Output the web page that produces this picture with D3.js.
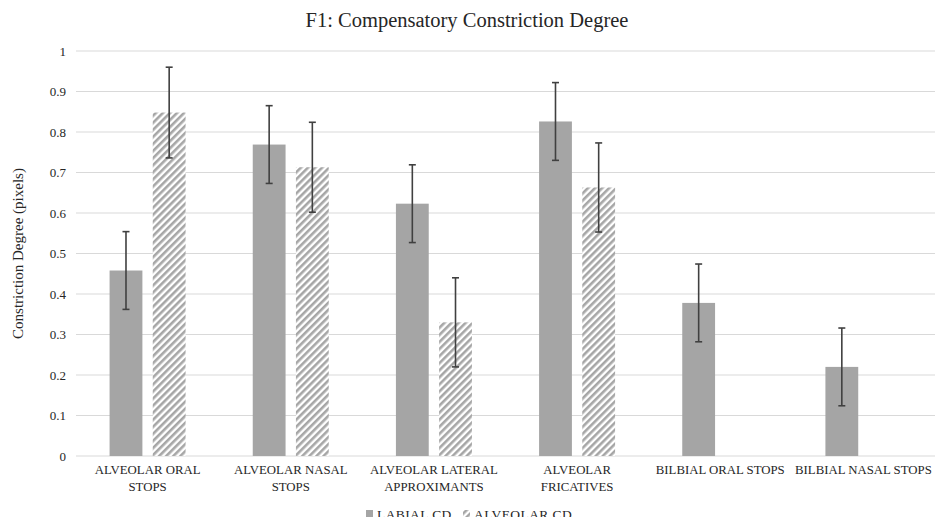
<!DOCTYPE html>
<meta charset="utf-8">
<style>
body { margin: 0; background: #fff; }
text { font-family: "Liberation Serif", "DejaVu Serif", serif; fill: #262626; }
.grid line { stroke: #d9d9d9; stroke-width: 1px; }
.err { stroke: #404040; stroke-width: 1.6px; }
</style>
<svg width="935" height="517"></svg>
<script src="https://d3js.org/d3.v7.min.js"></script>
<script>

var categories = [
  ["ALVEOLAR ORAL", "STOPS"],
  ["ALVEOLAR NASAL", "STOPS"],
  ["ALVEOLAR LATERAL", "APPROXIMANTS"],
  ["ALVEOLAR", "FRICATIVES"],
  ["BILBIAL ORAL STOPS"],
  ["BILBIAL NASAL STOPS"]
];
var seriesNames = ["LABIAL CD", "ALVEOLAR CD"];
var labialValues = [0.458, 0.769, 0.623, 0.826, 0.378, 0.220];
var labialErrors = [0.096, 0.096, 0.096, 0.096, 0.096, 0.096];
var alveolarValues = [0.848, 0.713, 0.330, 0.663, null, null];
var alveolarErrors = [0.112, 0.111, 0.110, 0.110, null, null];
var yTicks = [0, 0.1, 0.2, 0.3, 0.4, 0.5, 0.6, 0.7, 0.8, 0.9, 1];

var svg = d3.select("svg");

var defs = svg.append("defs");
var pat = defs.append("pattern")
    .attr("id", "hatch")
    .attr("patternUnits", "userSpaceOnUse")
    .attr("width", 5).attr("height", 5)
    .attr("patternTransform", "rotate(45)");
pat.append("rect").attr("width", 5).attr("height", 5).attr("fill", "#fff");
pat.append("rect").attr("width", 2.6).attr("height", 5).attr("fill", "#a6a6a6");

var plotLeft = 76, plotRight = 935, plotTop = 51, plotBottom = 456;

var x = d3.scaleBand()
    .domain(d3.range(categories.length))
    .range([plotLeft, plotRight]);

var x1 = d3.scaleBand()
    .domain([0, 1])
    .range([x.bandwidth() / 2 - 38, x.bandwidth() / 2 + 38])
    .paddingInner(0.24);

var y = d3.scaleLinear().domain([0, 1]).range([plotBottom, plotTop]);

// gridlines
svg.append("g").attr("class", "grid")
  .selectAll("line").data(yTicks).enter().append("line")
    .attr("x1", plotLeft).attr("x2", plotRight)
    .attr("y1", function(d) { return y(d); })
    .attr("y2", function(d) { return y(d); });

// y tick labels
svg.append("g").selectAll("text").data(yTicks).enter().append("text")
    .attr("x", 66)
    .attr("y", function(d) { return y(d) + 4.5; })
    .attr("text-anchor", "end")
    .attr("font-size", 13)
    .text(function(d) { return d; });

var rows = categories.map(function(c, i) {
  return {
    i: i,
    vals: [
      { s: 0, v: labialValues[i], e: labialErrors[i] },
      { s: 1, v: alveolarValues[i], e: alveolarErrors[i] }
    ].filter(function(d) { return d.v != null; })
  };
});

var groups = svg.append("g").selectAll("g").data(rows).enter().append("g")
    .attr("transform", function(d) { return "translate(" + x(d.i) + ",0)"; });

groups.selectAll("rect").data(function(d) { return d.vals; }).enter().append("rect")
    .attr("x", function(d) { return x1(d.s); })
    .attr("width", x1.bandwidth())
    .attr("y", function(d) { return y(d.v); })
    .attr("height", function(d) { return plotBottom - y(d.v); })
    .attr("fill", function(d) { return d.s === 0 ? "#a5a5a5" : "url(#hatch)"; });

// error bars
var eb = groups.selectAll("g.eb").data(function(d) { return d.vals; }).enter().append("g")
    .attr("class", "err");
eb.append("line")
    .attr("x1", function(d) { return x1(d.s) + x1.bandwidth() / 2; })
    .attr("x2", function(d) { return x1(d.s) + x1.bandwidth() / 2; })
    .attr("y1", function(d) { return y(d.v + d.e); })
    .attr("y2", function(d) { return y(d.v - d.e); });
[1, -1].forEach(function(sign) {
  eb.append("line")
    .attr("x1", function(d) { return x1(d.s) + x1.bandwidth() / 2 - 3.5; })
    .attr("x2", function(d) { return x1(d.s) + x1.bandwidth() / 2 + 3.5; })
    .attr("y1", function(d) { return y(d.v + sign * d.e); })
    .attr("y2", function(d) { return y(d.v + sign * d.e); });
});

// category labels
var cl = svg.append("g").selectAll("text").data(categories).enter().append("text")
    .attr("x", function(d, i) { return x(i) + x.bandwidth() / 2; })
    .attr("y", 474)
    .attr("text-anchor", "middle")
    .attr("font-size", 12.8);
cl.selectAll("tspan").data(function(d) { return d; }).enter().append("tspan")
    .attr("x", function() { return d3.select(this.parentNode).attr("x"); })
    .attr("dy", function(d, j) { return j === 0 ? 0 : 17; })
    .text(function(d) { return d; });

// title
svg.append("text")
    .attr("x", 467).attr("y", 27)
    .attr("text-anchor", "middle")
    .attr("font-size", 20.5)
    .text("F1: Compensatory  Constriction Degree");

// y axis title
svg.append("text")
    .attr("transform", "translate(23," + (plotTop + plotBottom) / 2 + ") rotate(-90)")
    .attr("text-anchor", "middle")
    .attr("font-size", 15)
    .text("Constriction Degree (pixels)");

// legend
var legend = svg.append("g").attr("transform", "translate(366,517)");
var lx = [0, 97];
seriesNames.forEach(function(name, i) {
  legend.append("rect")
    .attr("x", lx[i]).attr("y", -7)
    .attr("width", 7).attr("height", 7)
    .attr("fill", i === 0 ? "#a5a5a5" : "url(#hatch)");
  legend.append("text")
    .attr("x", lx[i] + 11).attr("y", 2)
    .attr("font-size", 13.5)
    .attr("letter-spacing", 0.4)
    .text(name);
});
</script>
